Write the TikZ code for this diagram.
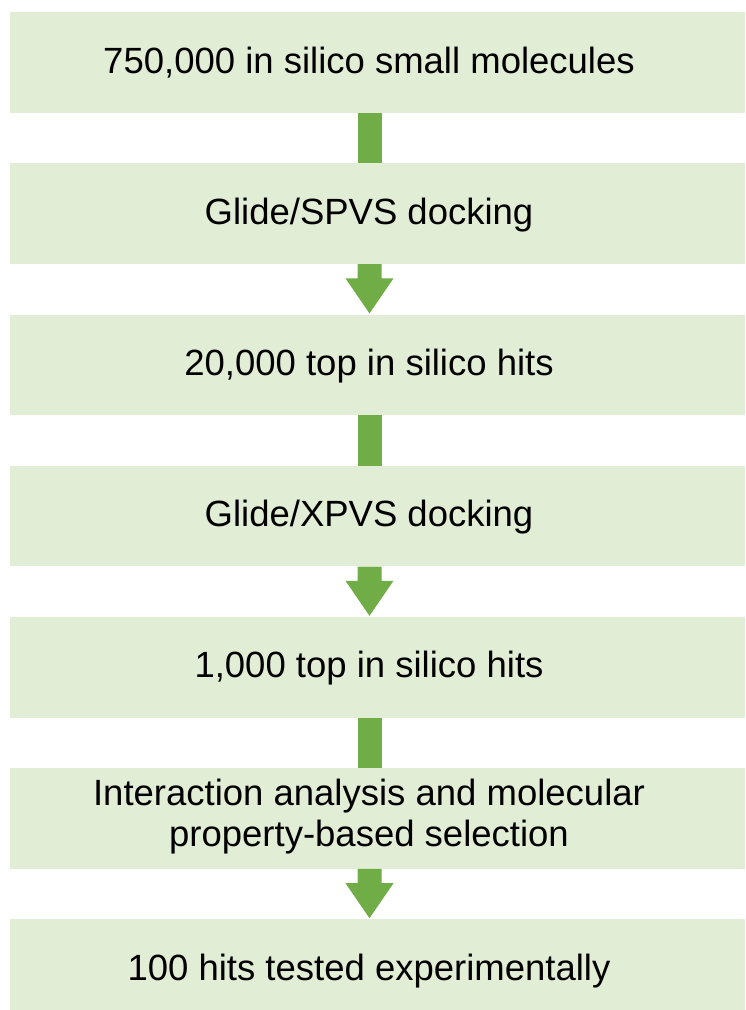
\documentclass[tikz,border=0pt]{standalone}
\usepackage{fontspec}
\setmainfont{Liberation Sans}
\usetikzlibrary{calc}
\definecolor{boxfill}{HTML}{E2EDD6}
\definecolor{flowgreen}{HTML}{70AD47}
\begin{document}
\begin{tikzpicture}[x=1pt,y=-1pt,
  stagebox/.style={rectangle,fill=boxfill,draw=none,minimum width=735pt,minimum height=100.5pt,inner sep=0pt,anchor=north},
  stagetext/.style={anchor=base,inner sep=0pt,align=center,font=\fontsize{36.5}{40.5}\selectfont},
  link/.style={fill=flowgreen}]
\useasboundingbox (0,0) rectangle (745,1010);
% boxes
\node[stagebox] (b1) at (377.5,12) {};
\node[stagebox] (b2) at (377.5,163.2) {};
\node[stagebox] (b3) at (377.5,314.4) {};
\node[stagebox] (b4) at (377.5,465.6) {};
\node[stagebox] (b5) at (377.5,616.8) {};
\node[stagebox] (b6) at (377.5,768) {};
\node[stagebox,minimum height=90.8pt] (b7) at (377.5,919.2) {};
% texts
\node[stagetext] (t1) at (369,73) {750,000 in silico small molecules};
\node[stagetext] (t2) at (369,224.2) {Glide/SPVS docking};
\node[stagetext] (t3) at (369,375.4) {20,000 top in silico hits};
\node[stagetext] (t4) at (369,526.6) {Glide/XPVS docking};
\node[stagetext] (t5) at (369,677.8) {1,000 top in silico hits};
\node[stagetext] (t6) at (369,846) {Interaction analysis and molecular\\property-based selection};
\node[stagetext] (t7) at (369,980) {100 hits tested experimentally};
% bars
\foreach \a/\b in {1/2,3/4,5/6}{
  \fill[link] let \p1=(b\a.south), \p2=(b\b.north), \p3=(t\a.center) in
    (\x3-11.5pt,\y1) rectangle (\x3+12.5pt,\y2);
}
% block arrows
\foreach \a/\b in {2/3,4/5,6/7}{
  \fill[link] let \p1=(b\a.south), \p2=(b\b.north), \p3=(t\a.center) in
    (\x3-11.5pt,\y1) -- (\x3+12.5pt,\y1) -- (\x3+12.5pt,\y2+36pt) -- (\x3+24.5pt,\y2+36pt)
    -- (\x3+0.5pt,\y2+1pt) -- (\x3-23.5pt,\y2+36pt) -- (\x3-11.5pt,\y2+36pt) -- cycle;
}
\end{tikzpicture}
\end{document}
